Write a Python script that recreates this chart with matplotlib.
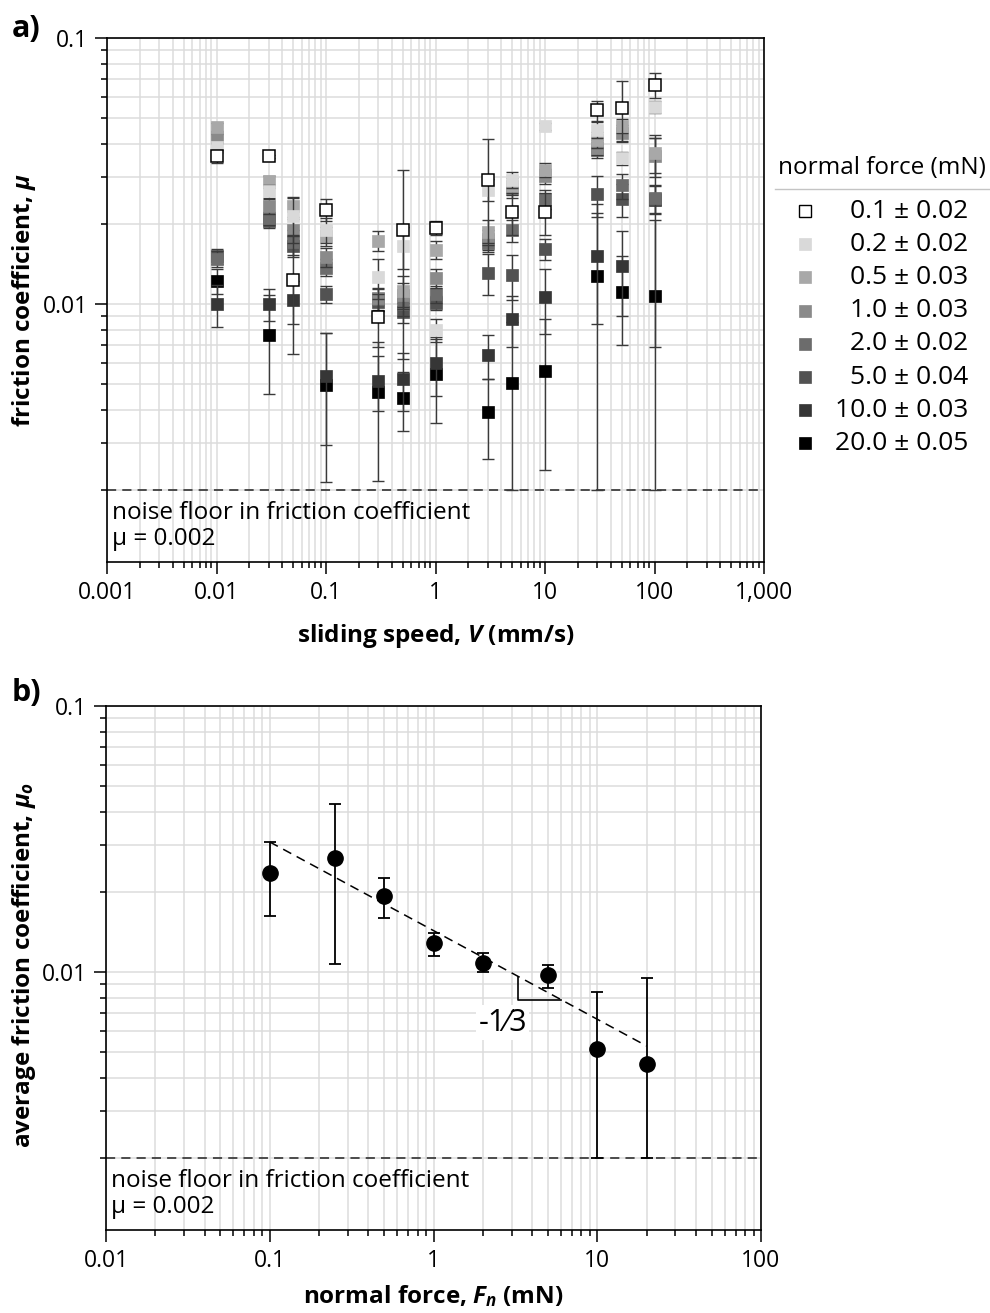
import numpy as np
import matplotlib
matplotlib.use("Agg")
import matplotlib.pyplot as plt
from matplotlib.lines import Line2D
from matplotlib.ticker import FixedFormatter, FixedLocator, LogLocator, NullFormatter

plt.rcParams["font.family"] = ["Open Sans", "DejaVu Sans"]
plt.rcParams["mathtext.fontset"] = "custom"
plt.rcParams["mathtext.rm"] = "Open Sans:bold"
plt.rcParams["mathtext.it"] = "Open Sans:italic:bold"
plt.rcParams["mathtext.bf"] = "Open Sans:bold"

W, H = 990, 1313
NOISE_FLOOR = 0.002
Y_MIN, Y_MAX = 0.00107, 0.1
GRID = "#dcdcdc"
nan = np.nan

# --- panel a: friction vs sliding speed, one series per normal force ---
speeds = [0.01, 0.03, 0.05, 0.1, 0.3, 0.5, 1, 3, 5, 10, 30, 50, 100]

force_labels = ["0.1 ± 0.02", "0.2 ± 0.02", "0.5 ± 0.03", "1.0 ± 0.03",
                "2.0 ± 0.02", "5.0 ± 0.04", "10.0 ± 0.03", "20.0 ± 0.05"]
force_colors = ["white", "#d9d9d9", "#a8a8a8", "#8a8a8a",
                "#6c6c6c", "#525252", "#363636", "#000000"]

mu_01 = [0.0359, 0.0359, 0.0123, 0.0226, 0.0089, 0.0190, 0.0193, 0.0293, 0.0221, 0.0221, 0.0534, 0.0546, 0.0667]
mu_02 = [0.0388, 0.0265, 0.0215, 0.0190, 0.0126, 0.0165, 0.0080, 0.0269, 0.0293, 0.0466, 0.0452, 0.0354, 0.0551]
mu_05 = [0.0463, 0.0289, 0.0233, 0.0180, 0.0173, 0.0112, 0.0160, 0.0187, 0.0277, 0.0320, 0.0415, 0.0468, 0.0370]
mu_1 = [0.0421, 0.0233, 0.0189, 0.0150, 0.0105, 0.0108, 0.0125, 0.0175, 0.0270, 0.0302, 0.0387, 0.0440, 0.0360]
mu_2 = [0.0148, 0.0210, 0.0171, 0.0137, 0.0104, 0.0100, 0.0109, 0.0169, 0.0189, 0.0247, 0.0380, 0.0279, 0.0250]
mu_5 = [0.0151, 0.0205, 0.0165, 0.0109, 0.0102, 0.0093, 0.0101, 0.0131, 0.0128, 0.0161, 0.0258, 0.0247, 0.0247]
mu_10 = [0.0100, 0.0100, 0.0103, 0.00535, 0.00515, 0.00524, 0.0060, 0.00644, 0.00877, 0.0106, 0.0152, 0.0139, 0.0245]
mu_20 = [0.0122, 0.00767, nan, 0.00494, 0.00466, 0.00443, 0.00547, 0.00392, 0.00505, 0.00558, 0.0127, 0.0111, 0.0107]

err_01 = [0.0020, 0.0005, 0.0058, 0.0021, 0.0020, 0.0128, 0.0012, 0.0124, 0.0040, 0.0040, 0.0048, 0.0141, 0.0072]
err_02 = [0.0015, 0.0015, 0.0035, 0.0020, 0.0022, 0.0030, 0.0008, 0.0025, 0.0020, 0.0015, 0.0030, 0.0020, 0.0030]
err_05 = [0.0015, 0.0015, 0.0020, 0.0015, 0.0015, 0.0015, 0.0012, 0.0020, 0.0020, 0.0020, 0.0030, 0.0030, 0.0060]
err_1 = [0.0015, 0.0015, 0.0020, 0.0012, 0.0010, 0.0012, 0.0010, 0.0015, 0.0020, 0.0020, 0.0025, 0.0030, 0.0060]
err_2 = [0.0010, 0.0012, 0.0018, 0.0010, 0.0010, 0.0010, 0.0008, 0.0012, 0.0018, 0.0020, 0.0025, 0.0030, 0.0030]
err_5 = [0.0010, 0.0012, 0.0015, 0.0008, 0.0008, 0.0008, 0.0006, 0.0023, 0.0025, 0.0015, 0.0045, 0.0035, 0.0030]
err_10 = [0.0018, 0.0014, 0.0019, 0.0024, 0.0012, 0.0013, 0.0015, 0.0012, 0.0019, 0.0029, 0.0068, 0.0049, 0.0176]
err_20 = [0.0013, 0.0031, nan, 0.0028, 0.0025, 0.0011, 0.0019, 0.0013, 0.0035, 0.0032, 0.0110, 0.0041, 0.0100]

series_mu = [mu_01, mu_02, mu_05, mu_1, mu_2, mu_5, mu_10, mu_20]
series_err = [err_01, err_02, err_05, err_1, err_2, err_5, err_10, err_20]

# --- panel b: average friction vs normal force ---
forces = [0.1, 0.25, 0.5, 1, 2, 5, 10, 20]
mu_avg = [0.0235, 0.0267, 0.0193, 0.0128, 0.0108, 0.0097, 0.00515, 0.00452]
mu_avg_hi = [0.0307, 0.0428, 0.0226, 0.0140, 0.0118, 0.0106, 0.0084, 0.0095]
mu_avg_lo = [0.0162, 0.0107, 0.0160, 0.0115, 0.0100, 0.0087, 0.0020, 0.0020]

FIT_C = 0.0143
FIT_EXP = -1.0 / 3.0

LABEL_FS = 17.5
TICK_FS = 16.5
NOTE_FS = 17.5


def fig_xy(x, y):
    return x / W, 1 - y / H


def style_axes(ax, xlim, xticks, xticklabels):
    ax.set_xscale("log")
    ax.set_yscale("log")
    ax.set_xlim(*xlim)
    ax.set_ylim(Y_MIN, Y_MAX)
    ax.xaxis.set_major_locator(FixedLocator(xticks))
    ax.xaxis.set_major_formatter(FixedFormatter(xticklabels))
    ax.xaxis.set_minor_locator(LogLocator(base=10, subs=np.arange(2, 10), numticks=30))
    ax.xaxis.set_minor_formatter(NullFormatter())
    ax.yaxis.set_major_locator(FixedLocator([0.01, 0.1]))
    ax.yaxis.set_major_formatter(FixedFormatter(["0.01", "0.1"]))
    ax.yaxis.set_minor_locator(LogLocator(base=10, subs=np.arange(2, 10), numticks=30))
    ax.yaxis.set_minor_formatter(NullFormatter())
    ax.grid(True, which="both", color=GRID, lw=1.1)
    ax.set_axisbelow(True)
    ax.tick_params(which="major", length=8.5, width=1.1, labelsize=TICK_FS, pad=5)
    ax.tick_params(which="minor", length=4.5, width=1.1)
    for s in ax.spines.values():
        s.set_linewidth(1.2)

    # noise floor
    ax.axhline(NOISE_FLOOR, color="#222222", lw=1.1, dashes=(6, 4), zorder=1.5)
    tr = ax.get_yaxis_transform()
    ax.text(0.007, 0.00164, "noise floor in friction coefficient", transform=tr,
            fontsize=NOTE_FS, va="center", ha="left")
    ax.text(0.007, 0.00131, "μ = 0.002", transform=tr,
            fontsize=NOTE_FS, va="center", ha="left")


fig = plt.figure(figsize=(W / 100, H / 100), dpi=100)

# ---------------- panel a ----------------
ax_a = fig.add_axes([107 / W, 1 - 562 / H, (764 - 107) / W, (562 - 38) / H])
style_axes(ax_a, (0.001, 1000), [0.001, 0.01, 0.1, 1, 10, 100, 1000],
           ["0.001", "0.01", "0.1", "1", "10", "100", "1,000"])

v = np.array(speeds)
# heaviest load first so the light / open squares sit on top
for i in reversed(range(len(series_mu))):
    mu = np.array(series_mu[i])
    err = np.array(series_err[i])
    lo = np.minimum(err, mu - NOISE_FLOOR)
    ax_a.errorbar(v, mu, yerr=[lo, err], fmt="none", ecolor="#3a3a3a",
                  elinewidth=1.0, capsize=4, capthick=1.0, zorder=3 + (7 - i) * 0.1)
    if i == 0:
        ax_a.plot(v, mu, ls="none", marker="s", ms=8.5, mfc="white", mec="black",
                  mew=1.1, zorder=3.05 + (7 - i) * 0.1)
    else:
        ax_a.plot(v, mu, ls="none", marker="s", ms=8.5, mfc=force_colors[i],
                  mec=force_colors[i], mew=0.5, zorder=3.05 + (7 - i) * 0.1)

fig.text(*fig_xy(24, 300), r"friction coefficient, $\mu$", rotation=90,
         fontsize=LABEL_FS, fontweight="bold", ha="center", va="center")
fig.text(*fig_xy(436, 636), r"sliding speed, $V$ (mm/s)",
         fontsize=LABEL_FS, fontweight="bold", ha="center", va="center")
fig.text(*fig_xy(26, 29), "a)", fontsize=22, fontweight="bold", ha="center", va="center")

# legend, drawn by hand to get the title rule
fig.text(*fig_xy(882, 168), "normal force (mN)", fontsize=17.5, ha="center", va="center")
fig.add_artist(Line2D([775 / W, 1.0], [1 - 189 / H, 1 - 189 / H],
                      transform=fig.transFigure, color="#c4c4c4", lw=1.0))
for i, lab in enumerate(force_labels):
    ypx = 211 + i * 33.2
    fx, fy = fig_xy(805, ypx)
    if i == 0:
        mk = dict(mfc="white", mec="black", mew=1.0)
    else:
        mk = dict(mfc=force_colors[i], mec=force_colors[i], mew=0.5)
    fig.add_artist(Line2D([fx], [fy], transform=fig.transFigure, ls="none",
                          marker="s", ms=8, **mk))
    fig.text(*fig_xy(968, ypx), lab, fontsize=19, ha="right", va="center")

# ---------------- panel b ----------------
ax_b = fig.add_axes([106 / W, 1 - 1230 / H, (761 - 106) / W, (1230 - 706) / H])
style_axes(ax_b, (0.01, 100), [0.01, 0.1, 1, 10, 100],
           ["0.01", "0.1", "1", "10", "100"])

f = np.array(forces)
m = np.array(mu_avg)
ax_b.errorbar(f, m, yerr=[m - np.array(mu_avg_lo), np.array(mu_avg_hi) - m],
              fmt="o", color="black", ms=11, elinewidth=1.3, capsize=4.5,
              capthick=1.3, zorder=4)

# power-law fit with slope -1/3
f_fit = np.array([forces[0], forces[-1]])
ax_b.plot(f_fit, FIT_C * f_fit ** FIT_EXP, color="black", lw=1.1,
          dashes=(6, 4), zorder=3)

# slope triangle
tri_x0, tri_x1 = 3.3, 6.0
y_top = FIT_C * tri_x0 ** FIT_EXP
y_bot = FIT_C * tri_x1 ** FIT_EXP
ax_b.plot([tri_x0, tri_x0, tri_x1], [y_top, y_bot, y_bot], color="black", lw=1.2, zorder=3)
ax_b.text(2.65, 0.00645, "-1⁄3", fontsize=22, ha="center", va="center",
          bbox=dict(facecolor="white", edgecolor="none", pad=1.5), zorder=5)

fig.text(*fig_xy(24, 965), r"average friction coefficient, $\mu_o$", rotation=90,
         fontsize=LABEL_FS, fontweight="bold", ha="center", va="center")
fig.text(*fig_xy(433, 1296), r"normal force, $F_n$ (mN)",
         fontsize=LABEL_FS, fontweight="bold", ha="center", va="center")
fig.text(*fig_xy(26, 693), "b)", fontsize=22, fontweight="bold", ha="center", va="center")

fig.savefig("out.png", dpi=100)
plt.close(fig)
